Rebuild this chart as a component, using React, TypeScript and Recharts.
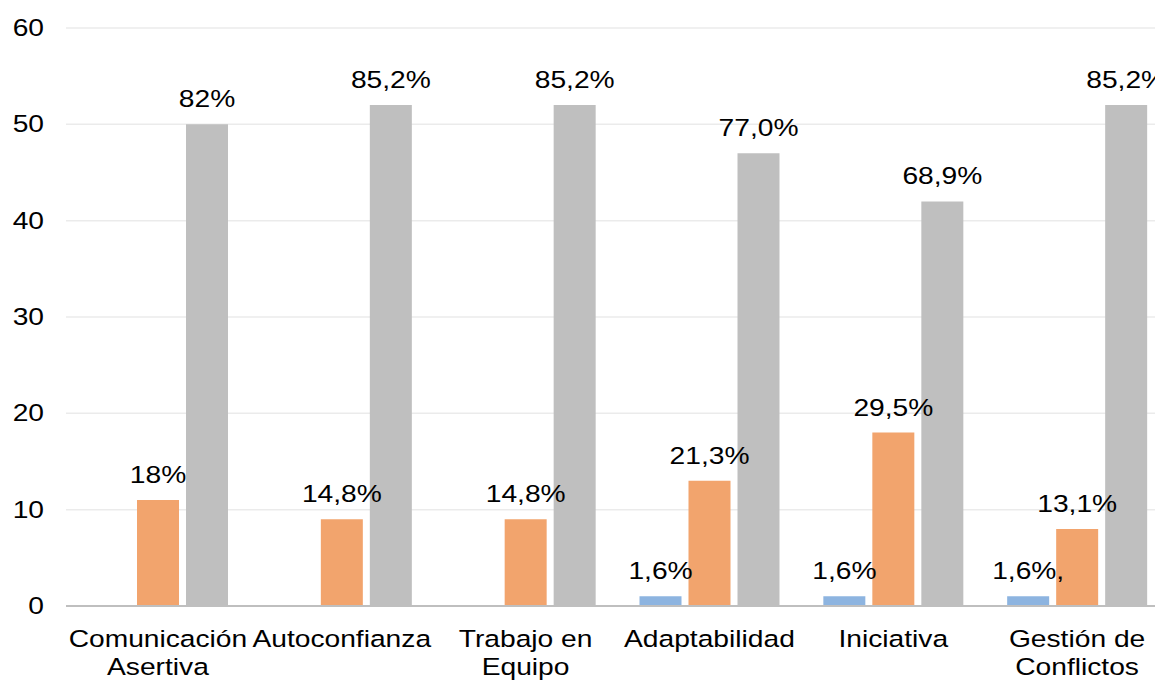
import React from "react";
import { BarChart, Bar, XAxis, YAxis, CartesianGrid, LabelList } from "recharts";

const categories = [
  "Comunicación\nAsertiva",
  "Autoconfianza",
  "Trabajo en\nEquipo",
  "Adaptabilidad",
  "Iniciativa",
  "Gestión de\nConflictos",
];
const seriesBlue = [0, 0, 0, 1, 1, 1];
const seriesOrange = [11, 9, 9, 13, 18, 8];
const seriesGray = [50, 52, 52, 47, 42, 52];
const labelsBlue = ["", "", "", "1,6%", "1,6%", "1,6%,"];
const labelsOrange = ["18%", "14,8%", "14,8%", "21,3%", "29,5%", "13,1%"];
const labelsGray = ["82%", "85,2%", "85,2%", "77,0%", "68,9%", "85,2%"];
const yTicks = [0, 10, 20, 30, 40, 50, 60];

const data = categories.map((c, i) => ({
  name: c,
  blue: seriesBlue[i],
  orange: seriesOrange[i],
  gray: seriesGray[i],
  lBlue: labelsBlue[i],
  lOrange: labelsOrange[i],
  lGray: labelsGray[i],
}));

const FONT = "'Liberation Sans', Arial, sans-serif";
const FS = 23.5;
const SX = 1.2;

const XTick = (props: any) => {
  const { x, y, payload } = props;
  const lines = String(payload.value).split("\n");
  return (
    <text
      transform={`translate(${x},${y}) scale(${SX},1)`}
      x={0}
      y={0}
      textAnchor="middle"
      fill="#000"
      fontSize={FS}
      fontFamily={FONT}
    >
      {lines.map((l, i) => (
        <tspan key={i} x={0} dy={i === 0 ? 33 : 28}>
          {l}
        </tspan>
      ))}
    </text>
  );
};

const YTick = (props: any) => {
  const { x, y, payload } = props;
  return (
    <text
      transform={`translate(${x},${y}) scale(${SX},1)`}
      x={0}
      y={0}
      dy={8}
      textAnchor="end"
      fill="#000"
      fontSize={FS}
      fontFamily={FONT}
    >
      {payload.value}
    </text>
  );
};

const renderLabel = (props: any) => {
  const { x, y, width, value } = props;
  if (!value) return null;
  const cx = Number(x) + Number(width) / 2;
  const cy = Number(y) - 17;
  return (
    <text
      transform={`translate(${cx},${cy}) scale(${SX},1)`}
      x={0}
      y={0}
      textAnchor="middle"
      fill="#000"
      fontSize={FS}
      fontFamily={FONT}
    >
      {value}
    </text>
  );
};

export default function App() {
  return (
    <div style={{ width: 1155, height: 675, background: "#fff", overflow: "hidden" }}>
      <BarChart
        width={1161}
        height={675}
        data={data}
        margin={{ top: 20, right: 0, left: 0, bottom: 0 }}
        barGap={7}
        barSize={42}
      >
        <CartesianGrid vertical={false} stroke="#ebebeb" strokeWidth={1.5} />
        <XAxis
          dataKey="name"
          height={77}
          axisLine={{ stroke: "#bfbfbf", strokeWidth: 2 }}
          tickLine={false}
          interval={0}
          tick={<XTick />}
        />
        <YAxis
          width={58}
          domain={[0, 60]}
          ticks={yTicks}
          axisLine={false}
          tickLine={false}
          tickMargin={16}
          tick={<YTick />}
        />
        <Bar dataKey="blue" fill="#8db4e0" isAnimationActive={false}>
          <LabelList dataKey="lBlue" content={renderLabel} />
        </Bar>
        <Bar dataKey="orange" fill="#f2a46d" isAnimationActive={false}>
          <LabelList dataKey="lOrange" content={renderLabel} />
        </Bar>
        <Bar dataKey="gray" fill="#bfbfbf" isAnimationActive={false}>
          <LabelList dataKey="lGray" content={renderLabel} />
        </Bar>
      </BarChart>
    </div>
  );
}
